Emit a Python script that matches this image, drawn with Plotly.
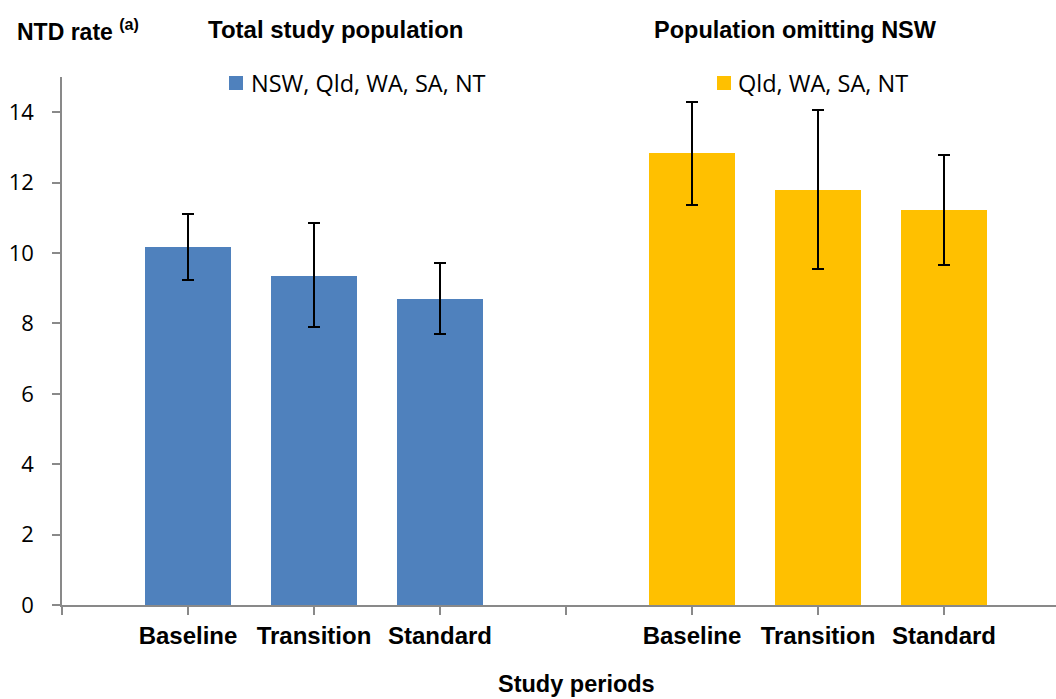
import plotly.graph_objects as go

# ---- data ----
periods = ["Baseline", "Transition", "Standard"]
total_rate = [10.16, 9.36, 8.70]
total_upper = [11.10, 10.86, 9.72]
total_lower = [9.24, 7.89, 7.69]
omit_rate = [12.83, 11.80, 11.22]
omit_upper = [14.29, 14.06, 12.78]
omit_lower = [11.37, 9.55, 9.66]
series_names = ["NSW, Qld, WA, SA, NT", "Qld, WA, SA, NT"]
panel_titles = ["Total study population", "Population omitting NSW"]
y_ticks = [0, 2, 4, 6, 8, 10, 12, 14]

W, H = 1056, 699
ML, MR, MT, MB = 62, 0, 77, 94
PW, PH = W - ML - MR, H - MT - MB

def px(x):
    return (x - ML) / PW

def py(y):
    return (H - MB - y) / PH

BLUE = "#4F81BD"
GOLD = "#FFC000"
AXIS = "#898989"

n = len(periods)
x_total = [1 + i for i in range(n)]
x_omit = [n + 2 + i for i in range(n)]

fig = go.Figure()
for xs, vals, up, lo, col, name in [
    (x_total, total_rate, total_upper, total_lower, BLUE, series_names[0]),
    (x_omit, omit_rate, omit_upper, omit_lower, GOLD, series_names[1]),
]:
    fig.add_trace(go.Bar(
        x=xs, y=vals, name=name, width=0.69,
        marker=dict(color=col, line=dict(width=0)),
        error_y=dict(type="data", symmetric=False,
                     array=[u - v for u, v in zip(up, vals)],
                     arrayminus=[v - l for v, l in zip(vals, lo)],
                     color="black", thickness=2, width=6),
        showlegend=False,
    ))

tickvals = x_total + x_omit
ticktext = periods + periods

xmax = PW / 126.0
fig.update_layout(
    width=W, height=H,
    margin=dict(l=ML, r=MR, t=MT, b=MB, pad=0),
    paper_bgcolor="white", plot_bgcolor="white",
    font=dict(family="Liberation Sans, Arial", color="black"),
    xaxis=dict(range=[0, xmax], tickvals=tickvals, ticktext=ticktext,
               showline=True, linecolor=AXIS, linewidth=1.5,
               ticks="outside", ticklen=8, tickcolor=AXIS, tickwidth=1.5,
               minor=dict(ticks="outside", tick0=0, dtick=1, ticklen=8,
                          tickcolor=AXIS, tickwidth=1.5, showgrid=False),
               showgrid=False, zeroline=False,
               tickfont=dict(family="Liberation Sans, Arial", size=24,
                             color="black", weight="bold"),
               ticklabelstandoff=0),
    yaxis=dict(range=[0, 15], tickvals=y_ticks,
               showline=True, linecolor=AXIS, linewidth=1.5,
               ticks="outside", ticklen=8, tickcolor=AXIS, tickwidth=1.5,
               showgrid=False, zeroline=False,
               tickfont=dict(family="Open Sans", size=22, color="black"),
               ticklabelstandoff=14),
    bargap=0,
)

bold = dict(family="Liberation Sans, Arial", size=24, color="black")
ann = [
    dict(x=px(15), y=py(30), xanchor="left", yanchor="middle",
         text="<b>NTD rate <sup>(a)</sup></b>",
         font=dict(family="Liberation Sans, Arial", size=23, color="black")),
    dict(x=px(336), y=py(30), xanchor="center", yanchor="middle",
         text="<b>" + panel_titles[0] + "</b>", font=bold),
    dict(x=px(795), y=py(30), xanchor="center", yanchor="middle",
         text="<b>" + panel_titles[1] + "</b>",
         font=dict(family="Liberation Sans, Arial", size=23.5, color="black")),
    dict(x=px(576), y=py(699), xanchor="center", yanchor="bottom",
         text="<b>Study periods</b>",
         font=dict(family="Liberation Sans, Arial", size=23.5, color="black")),
    dict(x=px(249), y=py(83), xanchor="left", yanchor="middle",
         text=series_names[0], font=dict(family="Open Sans", size=23.5, color="black")),
    dict(x=px(736), y=py(83), xanchor="left", yanchor="middle",
         text=series_names[1], font=dict(family="Open Sans", size=23.5, color="black")),
]
for a in ann:
    a.update(xref="paper", yref="paper", showarrow=False)
fig.update_layout(annotations=ann)

for x0, col in [(229, BLUE), (717, GOLD)]:
    fig.add_shape(type="rect", xref="paper", yref="paper",
                  x0=px(x0), x1=px(x0 + 14), y0=py(76), y1=py(90),
                  fillcolor=col, line=dict(width=0))

fig.write_html("out.html")
